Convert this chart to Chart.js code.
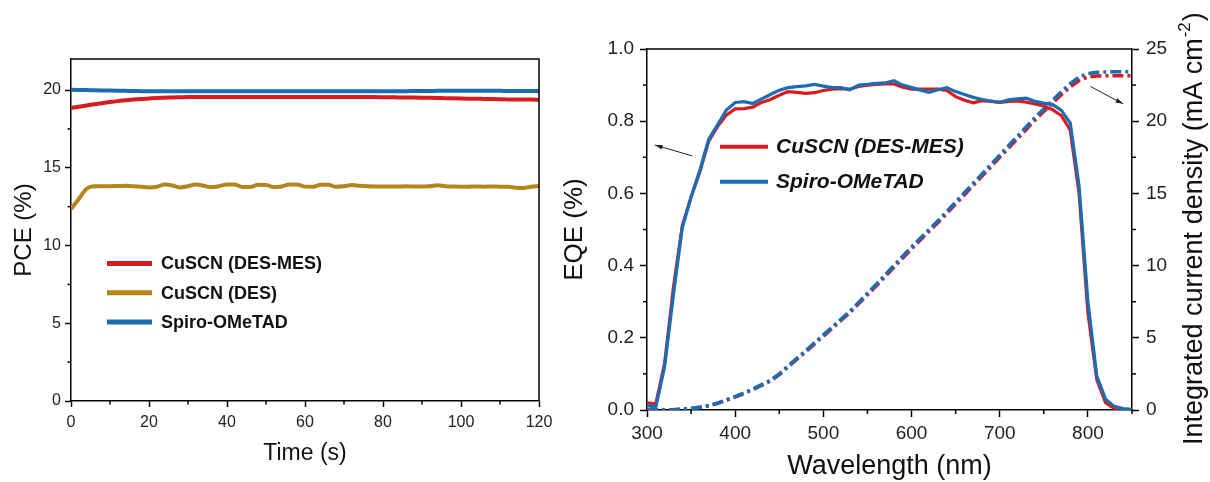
<!DOCTYPE html>
<html>
<head>
<meta charset="utf-8">
<script src="https://cdn.jsdelivr.net/npm/chart.js@4.4.0/dist/chart.umd.min.js"></script>
<style>
    body { margin: 0; background: #fff; overflow: hidden; }
    #wrap { position: relative; width: 1210px; height: 482px; }
    canvas { position: absolute; top: 0; }
    #pceChart { left: 0; }
    #eqeChart { left: 560px; }
</style>
</head>
<body>
<div id="wrap">
    <canvas id="pceChart" width="560" height="482"></canvas>
    <canvas id="eqeChart" width="650" height="482"></canvas>
</div>
<script>
Chart.defaults.font.family = "'Liberation Sans', Arial, Helvetica, sans-serif";
Chart.defaults.color = '#1a1a1a';

// stabilised PCE under maximum power point tracking
var timeS = [0, 2, 4, 6, 8, 10, 12, 14, 16, 18,
    20, 22, 24, 26, 28, 30, 32, 34, 36, 38,
    40, 42, 44, 46, 48, 50, 52, 54, 56, 58,
    60, 62, 64, 66, 68, 70, 72, 74, 76, 78,
    80, 82, 84, 86, 88, 90, 92, 94, 96, 98,
    100, 102, 104, 106, 108, 110, 112, 114, 116, 118,
    120];
var pceSpiro = [20.02, 20.01, 20.00, 19.99, 19.98, 19.97, 19.96, 19.95, 19.94, 19.93,
    19.93, 19.92, 19.92, 19.92, 19.92, 19.92, 19.92, 19.92, 19.92, 19.92,
    19.92, 19.92, 19.92, 19.92, 19.92, 19.92, 19.92, 19.92, 19.92, 19.92,
    19.92, 19.92, 19.92, 19.92, 19.92, 19.92, 19.92, 19.92, 19.92, 19.92,
    19.92, 19.93, 19.93, 19.93, 19.94, 19.94, 19.94, 19.95, 19.95, 19.95,
    19.95, 19.95, 19.95, 19.95, 19.95, 19.95, 19.94, 19.94, 19.94, 19.94,
    19.94];
var pceDesMes = [18.85, 18.93, 19.01, 19.09, 19.16, 19.23, 19.29, 19.34, 19.39, 19.43,
    19.46, 19.49, 19.51, 19.53, 19.54, 19.55, 19.55, 19.56, 19.56, 19.56,
    19.56, 19.56, 19.56, 19.56, 19.56, 19.56, 19.56, 19.56, 19.56, 19.56,
    19.56, 19.56, 19.55, 19.55, 19.55, 19.55, 19.55, 19.55, 19.55, 19.55,
    19.54, 19.54, 19.53, 19.53, 19.52, 19.51, 19.50, 19.49, 19.48, 19.47,
    19.46, 19.45, 19.44, 19.43, 19.42, 19.41, 19.40, 19.40, 19.39, 19.39,
    19.38];
var pceDes = [12.35, 13.00, 13.65, 13.82, 13.82, 13.82, 13.83, 13.84, 13.82, 13.78,
    13.74, 13.78, 13.92, 13.86, 13.74, 13.82, 13.93, 13.85, 13.75, 13.82,
    13.93, 13.92, 13.77, 13.77, 13.91, 13.90, 13.76, 13.80, 13.92, 13.92,
    13.79, 13.78, 13.91, 13.91, 13.78, 13.82, 13.89, 13.84, 13.81, 13.80,
    13.80, 13.80, 13.80, 13.81, 13.80, 13.80, 13.81, 13.88, 13.82, 13.80,
    13.79, 13.79, 13.80, 13.79, 13.80, 13.79, 13.78, 13.72, 13.70, 13.78,
    13.84];
var pceLabels = ['CuSCN (DES-MES)', 'CuSCN (DES)', 'Spiro-OMeTAD'];
var pceMinorX = [10, 30, 50, 70, 90, 110];
var pceMinorY = [2.5, 7.5, 12.5, 17.5];

// EQE spectra and integrated current density
var wavelengthNm = [300, 310, 320, 330, 340, 350, 360, 370, 380, 390,
    400, 410, 420, 430, 440, 450, 460, 470, 480, 490,
    500, 510, 520, 530, 540, 550, 560, 570, 580, 590,
    600, 610, 620, 630, 640, 650, 660, 670, 680, 690,
    700, 710, 720, 730, 740, 750, 760, 770, 780, 790,
    800, 810, 820, 830, 840, 850];
var eqeDesMes = [0.020, 0.017, 0.130, 0.340, 0.510, 0.590, 0.660, 0.745, 0.785, 0.817,
    0.834, 0.835, 0.839, 0.852, 0.860, 0.872, 0.882, 0.880, 0.877, 0.879,
    0.885, 0.889, 0.890, 0.889, 0.896, 0.900, 0.902, 0.903, 0.903, 0.894,
    0.889, 0.889, 0.889, 0.889, 0.885, 0.868, 0.858, 0.851, 0.857, 0.855,
    0.852, 0.855, 0.856, 0.853, 0.848, 0.842, 0.832, 0.815, 0.775, 0.600,
    0.270, 0.085, 0.020, 0.004, 0.000, 0.000];
var eqeSpiro = [0.012, 0.008, 0.120, 0.320, 0.505, 0.590, 0.665, 0.750, 0.790, 0.831,
    0.852, 0.854, 0.849, 0.862, 0.874, 0.886, 0.893, 0.896, 0.898, 0.902,
    0.897, 0.893, 0.893, 0.887, 0.900, 0.902, 0.905, 0.906, 0.912, 0.900,
    0.893, 0.886, 0.880, 0.887, 0.893, 0.882, 0.874, 0.866, 0.860, 0.856,
    0.852, 0.859, 0.862, 0.864, 0.855, 0.850, 0.846, 0.830, 0.795, 0.620,
    0.300, 0.095, 0.030, 0.010, 0.004, 0.002];
var jscDesMes = [0.00, 0.00, 0.01, 0.02, 0.05, 0.10, 0.18, 0.30, 0.46, 0.68,
    0.90, 1.15, 1.42, 1.71, 2.01, 2.45, 2.99, 3.52, 4.03, 4.58,
    5.12, 5.65, 6.20, 6.74, 7.36, 7.98, 8.60, 9.24, 9.89, 10.53,
    11.16, 11.78, 12.38, 12.98, 13.62, 14.27, 14.91, 15.56, 16.20, 16.85,
    17.50, 18.14, 18.79, 19.43, 20.08, 20.67, 21.26, 21.85, 22.39, 22.82,
    23.06, 23.13, 23.15, 23.15, 23.15, 23.15];
var jscSpiro = [0.00, 0.00, 0.01, 0.02, 0.05, 0.10, 0.18, 0.30, 0.47, 0.70,
    0.93, 1.18, 1.45, 1.75, 2.05, 2.50, 3.05, 3.58, 4.10, 4.65,
    5.20, 5.73, 6.28, 6.83, 7.45, 8.08, 8.70, 9.35, 10.00, 10.65,
    11.28, 11.90, 12.50, 13.10, 13.75, 14.40, 15.05, 15.70, 16.35, 17.00,
    17.65, 18.30, 18.95, 19.60, 20.25, 20.85, 21.45, 22.05, 22.60, 23.05,
    23.30, 23.38, 23.41, 23.42, 23.42, 23.42];
var eqeLabels = ['CuSCN (DES-MES)', 'Spiro-OMeTAD'];
var eqeMinorX = [350, 450, 550, 650, 750, 850];
var eqeMinorY = [0.1, 0.3, 0.5, 0.7, 0.9];
var jscMinorY = [2.5, 7.5, 12.5, 17.5, 22.5];
// pointer arrows: [tail nm, tail EQE, head nm, head EQE]
var eqeArrows = [[351, 0.704, 309, 0.734], [803, 0.896, 840, 0.848]];

var RED = '#d81b1f';
var BLUE = '#1b6db3';
var GOLD = '#b3851a';
var FONT = "'Liberation Sans', Arial, Helvetica, sans-serif";

function Points(xs, ys) {
    return xs.map((x, i) => ({ x: x, y: ys[i] }));
}

// short ticks between the labelled ones
var minorTicks = {
    id: 'minorTicks',
    afterDraw(chart, args, opts) {
        var ctx = chart.ctx;
        ctx.save();
        ctx.strokeStyle = '#000';
        ctx.lineWidth = 1.5;
        Object.keys(opts.values).forEach(id => {
            var scale = chart.scales[id];
            opts.values[id].forEach(v => {
                var p = scale.getPixelForValue(v);
                ctx.beginPath();
                if (scale.position == 'bottom') {
                    ctx.moveTo(p, scale.top);
                    ctx.lineTo(p, scale.top + opts.length);
                } else if (scale.position == 'left') {
                    ctx.moveTo(scale.right, p);
                    ctx.lineTo(scale.right - opts.length, p);
                } else {
                    ctx.moveTo(scale.left, p);
                    ctx.lineTo(scale.left + opts.length, p);
                }
                ctx.stroke();
            });
        });
        ctx.restore();
    }
};

// top (and right) frame lines of the plot box
var frameLines = {
    id: 'frameLines',
    afterDraw(chart, args, opts) {
        var a = chart.chartArea, ctx = chart.ctx;
        ctx.save();
        ctx.strokeStyle = '#000';
        ctx.lineWidth = 1.5;
        ctx.beginPath();
        ctx.moveTo(a.left, a.top);
        ctx.lineTo(a.right, a.top);
        if (opts.right) {
            ctx.lineTo(a.right, a.bottom);
        }
        ctx.stroke();
        ctx.restore();
    }
};

// legend drawn inside the plot box
var lineLegend = {
    id: 'lineLegend',
    afterDraw(chart, args, opts) {
        var a = chart.chartArea, ctx = chart.ctx;
        ctx.save();
        ctx.font = opts.font;
        ctx.textBaseline = 'middle';
        ctx.fillStyle = '#111';
        opts.items.forEach((item, i) => {
            var y = a.top + opts.top + i * opts.gap;
            ctx.strokeStyle = item.color;
            ctx.lineWidth = opts.lineWidth;
            ctx.beginPath();
            ctx.moveTo(a.left + opts.x0, y);
            ctx.lineTo(a.left + opts.x1, y);
            ctx.stroke();
            ctx.fillText(item.label, a.left + opts.textX, y + 1);
        });
        ctx.restore();
    }
};

var axisArrows = {
    id: 'axisArrows',
    afterDatasetsDraw(chart, args, opts) {
        var xs = chart.scales.x, ys = chart.scales.y, ctx = chart.ctx;
        ctx.save();
        ctx.strokeStyle = '#222';
        ctx.fillStyle = '#222';
        ctx.lineWidth = 1;
        opts.list.forEach(ar => {
            var x0 = xs.getPixelForValue(ar[0]), y0 = ys.getPixelForValue(ar[1]);
            var x1 = xs.getPixelForValue(ar[2]), y1 = ys.getPixelForValue(ar[3]);
            var ang = Math.atan2(y1 - y0, x1 - x0);
            ctx.beginPath();
            ctx.moveTo(x0, y0);
            ctx.lineTo(x1, y1);
            ctx.stroke();
            ctx.beginPath();
            ctx.moveTo(x1, y1);
            ctx.lineTo(x1 - 8 * Math.cos(ang - 0.3), y1 - 8 * Math.sin(ang - 0.3));
            ctx.lineTo(x1 - 8 * Math.cos(ang + 0.3), y1 - 8 * Math.sin(ang + 0.3));
            ctx.closePath();
            ctx.fill();
        });
        ctx.restore();
    }
};

// right axis title, read bottom to top, with a superscript
var sideTitle = {
    id: 'sideTitle',
    afterDraw(chart, args, opts) {
        var ctx = chart.ctx;
        ctx.save();
        ctx.translate(opts.x, opts.y);
        ctx.rotate(-Math.PI / 2);
        ctx.fillStyle = '#111';
        ctx.textBaseline = 'alphabetic';
        ctx.font = opts.size + 'px ' + FONT;
        ctx.fillText(opts.text, 0, 0);
        var w = ctx.measureText(opts.text).width;
        ctx.font = opts.supSize + 'px ' + FONT;
        ctx.fillText(opts.sup, w + 1, -opts.rise);
        var sw = ctx.measureText(opts.sup).width;
        ctx.font = opts.size + 'px ' + FONT;
        ctx.fillText(opts.tail, w + sw + 2, 0);
        ctx.restore();
    }
};

function AxisStyle(tickLen) {
    return {
        grid: { drawOnChartArea: false, tickLength: tickLen, tickColor: '#000', tickWidth: 1.5 },
        border: { color: '#000', width: 1.5 }
    };
}

new Chart(document.getElementById('pceChart'), {
    type: 'line',
    data: {
        datasets: [
            { label: pceLabels[2], data: Points(timeS, pceSpiro), borderColor: BLUE, borderWidth: 4 },
            { label: pceLabels[0], data: Points(timeS, pceDesMes), borderColor: RED, borderWidth: 4 },
            { label: pceLabels[1], data: Points(timeS, pceDes), borderColor: GOLD, borderWidth: 4 }
        ]
    },
    options: {
        responsive: false,
        animation: false,
        events: [],
        layout: { padding: { top: 59, right: 21, left: 0, bottom: 0 } },
        elements: { point: { radius: 0 }, line: { cubicInterpolationMode: 'monotone', fill: false } },
        scales: {
            x: Object.assign(AxisStyle(6), {
                type: 'linear', min: 0, max: 120,
                ticks: { stepSize: 20, includeBounds: false, autoSkip: false, maxRotation: 0, padding: 6, font: { size: 16 }, color: '#222' },
                title: { display: true, text: 'Time (s)', font: { size: 23 }, color: '#111', padding: { top: 0, bottom: 15 } },
                afterFit: s => { s.height = 81; }
            }),
            y: Object.assign(AxisStyle(6), {
                min: 0, max: 22,
                ticks: { stepSize: 5, includeBounds: false, padding: 4, font: { size: 16 }, color: '#222' },
                title: { display: true, text: 'PCE (%)', font: { size: 24 }, color: '#111', padding: { top: 10, bottom: 0 } },
                afterFit: s => { s.width = 71; }
            })
        },
        plugins: {
            legend: { display: false },
            tooltip: { enabled: false },
            minorTicks: { length: 3.5, values: { x: pceMinorX, y: pceMinorY } },
            frameLines: { right: true },
            lineLegend: {
                font: 'bold 18px ' + FONT, lineWidth: 5, x0: 36, x1: 81, textX: 90, top: 204.5, gap: 29.3,
                items: [
                    { label: pceLabels[0], color: RED },
                    { label: pceLabels[1], color: GOLD },
                    { label: pceLabels[2], color: BLUE }
                ]
            }
        }
    },
    plugins: [minorTicks, frameLines, lineLegend]
});

new Chart(document.getElementById('eqeChart'), {
    type: 'line',
    data: {
        datasets: [
            { label: eqeLabels[1], data: Points(wavelengthNm, eqeSpiro), borderColor: BLUE, borderWidth: 3.2, yAxisID: 'y' },
            { label: eqeLabels[0], data: Points(wavelengthNm, eqeDesMes), borderColor: RED, borderWidth: 3.2, yAxisID: 'y' },
            { label: eqeLabels[1], data: Points(wavelengthNm, jscSpiro), borderColor: BLUE, borderWidth: 3.6, borderDash: [11, 4, 3, 4], yAxisID: 'y1' },
            { label: eqeLabels[0], data: Points(wavelengthNm, jscDesMes), borderColor: RED, borderWidth: 3.6, borderDash: [11, 4, 3, 4], yAxisID: 'y1' }
        ]
    },
    options: {
        responsive: false,
        animation: false,
        events: [],
        layout: { padding: { top: 49, right: 0, left: 0, bottom: 0 } },
        elements: { point: { radius: 0 }, line: { tension: 0, fill: false, borderCapStyle: 'butt' } },
        scales: {
            x: Object.assign(AxisStyle(7), {
                type: 'linear', min: 300, max: 850,
                ticks: { stepSize: 100, includeBounds: false, autoSkip: false, maxRotation: 0, padding: 5, font: { size: 19 }, color: '#222' },
                title: { display: true, text: 'Wavelength (nm)', font: { size: 27 }, color: '#111', padding: { top: 0, bottom: -1 } },
                afterFit: s => { s.height = 72; }
            }),
            y: Object.assign(AxisStyle(7), {
                position: 'left', min: 0, max: 1,
                ticks: { stepSize: 0.2, includeBounds: false, padding: 6, font: { size: 19 }, color: '#222', callback: v => v.toFixed(1) },
                title: { display: true, text: 'EQE (%)', font: { size: 26 }, color: '#111', padding: { top: -1, bottom: 0 } },
                afterFit: s => { s.width = 87; }
            }),
            y1: Object.assign(AxisStyle(7), {
                position: 'right', min: 0, max: 25,
                ticks: { stepSize: 5, includeBounds: false, padding: 7, font: { size: 19 }, color: '#222' },
                afterFit: s => { s.width = 78; }
            })
        },
        plugins: {
            legend: { display: false },
            tooltip: { enabled: false },
            minorTicks: { length: 4, values: { x: eqeMinorX, y: eqeMinorY, y1: jscMinorY } },
            frameLines: { right: false },
            lineLegend: {
                font: 'italic bold 21px ' + FONT, lineWidth: 4, x0: 73, x1: 121, textX: 129, top: 97.7, gap: 35,
                items: [
                    { label: eqeLabels[0], color: RED },
                    { label: eqeLabels[1], color: BLUE }
                ]
            },
            axisArrows: { list: eqeArrows },
            sideTitle: { x: 642, y: 445, size: 27, supSize: 17, rise: 12, text: 'Integrated current density (mA cm', sup: '-2', tail: ')' }
        }
    },
    plugins: [minorTicks, frameLines, lineLegend, axisArrows, sideTitle]
});
</script>
</body>
</html>
